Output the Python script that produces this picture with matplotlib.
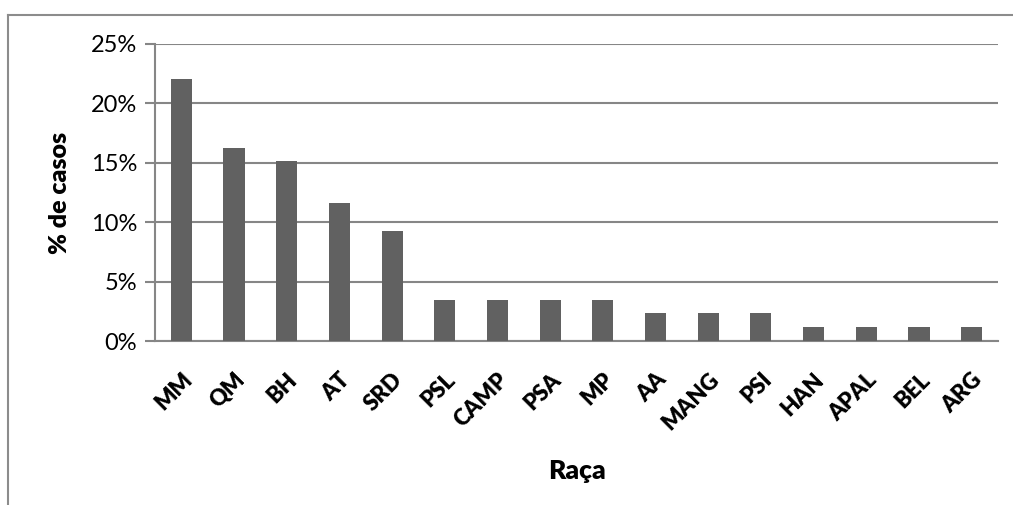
import matplotlib.pyplot as plt
from matplotlib.lines import Line2D
from matplotlib.ticker import FuncFormatter

# ---------------- data ----------------
racas = ['MM', 'QM', 'BH', 'AT', 'SRD', 'PSL', 'CAMP', 'PSA', 'MP',
         'AA', 'MANG', 'PSI', 'HAN', 'APAL', 'BEL', 'ARG']
casos_pct = [22.09, 16.28, 15.12, 11.63, 9.30, 3.49, 3.49, 3.49, 3.49,
             2.33, 2.33, 2.33, 1.16, 1.16, 1.16, 1.16]
yticks = [0, 5, 10, 15, 20, 25]

plt.rcParams['font.family'] = ['Lato', 'DejaVu Sans']
grid_col = '#868686'

W, H = 1013, 505
fig = plt.figure(figsize=(W / 100, H / 100), dpi=100)
ax = fig.add_axes([155 / W, 1 - 341 / H, (998 - 155) / W, (341 - 44) / H])

x = range(len(racas))
ax.bar(x, casos_pct, width=0.4, color='#616161', zorder=3)

ax.set_xlim(-0.5, len(racas) - 0.5)
ax.set_ylim(0, 25)
ax.set_yticks(yticks)
ax.yaxis.set_major_formatter(FuncFormatter(lambda v, p: '%d%%' % v))
ax.grid(axis='y', color=grid_col, lw=1.5, zorder=0)

ax.set_xticks(list(x))
ax.set_xticklabels(racas, rotation=45, ha='right', rotation_mode='anchor',
                   fontsize=16, fontweight='heavy')
ax.tick_params(axis='x', length=0, pad=20)
ax.tick_params(axis='y', length=7, width=1.5, color=grid_col, labelsize=17, pad=6)

for s in ['top', 'right']:
    ax.spines[s].set_visible(False)
for s in ['left', 'bottom']:
    ax.spines[s].set_color(grid_col)
    ax.spines[s].set_linewidth(1.5)

ax.set_ylabel('% de casos', fontsize=18, fontweight='heavy', labelpad=14)
ax.set_xlabel('Raça', fontsize=19, fontweight='heavy', labelpad=18)

# outer chart border (cropped at right and bottom)
fig.add_artist(Line2D([8 / W, 8 / W], [-0.05, 1 - 15 / H], color='#8c8c8c', lw=1.5))
fig.add_artist(Line2D([8 / W, 1.05], [1 - 15 / H, 1 - 15 / H], color='#8c8c8c', lw=1.5))

fig.savefig('out.png', dpi=100)
